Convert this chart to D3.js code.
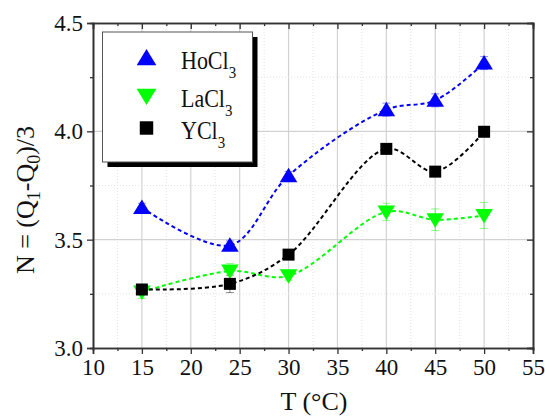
<!DOCTYPE html>
<html>
<head>
<meta charset="utf-8">
<script src="https://cdn.jsdelivr.net/npm/d3@7"></script>
<style>
  html, body { margin: 0; padding: 0; background: #fff; }
  svg { display: block; }
  text { font-family: "Liberation Serif", "DejaVu Serif", serif; fill: #111; }
</style>
</head>
<body>
<svg id="chart" width="545" height="417"></svg>
<script>
// Temperatures (°C) at which each salt solution was measured
const temps = [15, 24, 30, 40, 45, 50];

// N = (Q1 - Q0)/3 for each salt
const hoValues = [3.648, 3.474, 3.795, 4.100, 4.143, 4.315];
const laValues = [3.259, 3.355, 3.333, 3.628, 3.592, 3.612];
const yValues  = [3.270, 3.296, 3.431, 3.919, 3.814, 3.998];

// Standard deviations
const hoErrors = [0.02, 0.02, 0.02, 0.03, 0.03, 0.03];
const laErrors = [0.03, 0.035, 0.02, 0.04, 0.05, 0.06];
const yErrors  = [0.02, 0.04, 0.02, 0.02, 0.02, 0.02];

// Tick labels
const xTicks = [10, 15, 20, 25, 30, 35, 40, 45, 50, 55];
const yTicks = [3.0, 3.5, 4.0, 4.5];

const seriesNames = ["HoCl", "LaCl", "YCl"];
const seriesColors = ["#0000ff", "#00ff00", "#000000"];
const seriesSymbols = ["up", "down", "square"];

const series = [
  { name: seriesNames[0], values: hoValues, errors: hoErrors, color: seriesColors[0], symbol: seriesSymbols[0] },
  { name: seriesNames[1], values: laValues, errors: laErrors, color: seriesColors[1], symbol: seriesSymbols[1] },
  { name: seriesNames[2], values: yValues,  errors: yErrors,  color: seriesColors[2], symbol: seriesSymbols[2] }
];

const serif = '"Liberation Serif", "DejaVu Serif", serif';
const svg = d3.select("#chart");
const plot = { left: 93, right: 533, top: 23, bottom: 348 };

const x = d3.scaleLinear().domain([10, 55]).range([plot.left, plot.right]);
const y = d3.scaleLinear().domain([3.0, 4.5]).range([plot.bottom, plot.top]);

const minorX = d3.range(12.5, 55, 5);
const minorY = [3.25, 3.75, 4.25];

// Grid
const grid = svg.append("g");
grid.selectAll(".vmaj").data(xTicks.slice(1, -1)).join("line")
  .attr("x1", d => x(d)).attr("x2", d => x(d))
  .attr("y1", plot.top).attr("y2", plot.bottom)
  .attr("stroke", "#d2d2d2").attr("stroke-width", 1.2);
grid.selectAll(".vmin").data(minorX).join("line")
  .attr("x1", d => x(d)).attr("x2", d => x(d))
  .attr("y1", plot.top).attr("y2", plot.bottom)
  .attr("stroke", "#e2e2e2").attr("stroke-width", 1).attr("stroke-dasharray", "1,2");
grid.selectAll(".hmaj").data(yTicks.slice(1, -1)).join("line")
  .attr("x1", plot.left).attr("x2", plot.right)
  .attr("y1", d => y(d)).attr("y2", d => y(d))
  .attr("stroke", "#d2d2d2").attr("stroke-width", 1.2);
grid.selectAll(".hmin").data(minorY).join("line")
  .attr("x1", plot.left).attr("x2", plot.right)
  .attr("y1", d => y(d)).attr("y2", d => y(d))
  .attr("stroke", "#e2e2e2").attr("stroke-width", 1).attr("stroke-dasharray", "1,2");

// Axes
const axisColor = "#333";
const bottomAxis = svg.append("g").attr("transform", `translate(0,${plot.bottom})`)
  .call(d3.axisBottom(x).tickValues(xTicks).tickFormat(d3.format("d")).tickSize(6).tickPadding(4));
const leftAxis = svg.append("g").attr("transform", `translate(${plot.left},0)`)
  .call(d3.axisLeft(y).tickValues(yTicks).tickFormat(d3.format(".1f")).tickSize(6).tickPadding(4));
svg.append("g").attr("transform", `translate(0,${plot.top})`)
  .call(d3.axisBottom(x).tickValues(xTicks).tickFormat("").tickSize(6));
svg.append("g").attr("transform", `translate(${plot.right},0)`)
  .call(d3.axisLeft(y).tickValues(yTicks).tickFormat("").tickSize(6));

// Minor ticks
svg.append("g").attr("transform", `translate(0,${plot.bottom})`)
  .call(d3.axisBottom(x).tickValues(minorX).tickFormat("").tickSize(3));
svg.append("g").attr("transform", `translate(0,${plot.top})`)
  .call(d3.axisBottom(x).tickValues(minorX).tickFormat("").tickSize(3));
svg.append("g").attr("transform", `translate(${plot.left},0)`)
  .call(d3.axisLeft(y).tickValues(minorY).tickFormat("").tickSize(3));
svg.append("g").attr("transform", `translate(${plot.right},0)`)
  .call(d3.axisLeft(y).tickValues(minorY).tickFormat("").tickSize(3));

svg.selectAll(".domain").attr("stroke", axisColor).attr("stroke-width", 1.6);
svg.selectAll(".tick line").attr("stroke", axisColor).attr("stroke-width", 1.3);
svg.selectAll(".tick text")
  .style("font-family", serif)
  .style("font-size", "23px").style("fill", "#111");
bottomAxis.selectAll(".tick text").attr("dy", "0.75em");

// Axis titles
svg.append("text")
  .attr("x", (plot.left + plot.right) / 2 + 1).attr("y", 410)
  .attr("text-anchor", "middle").style("font-size", "26px")
  .text("T (°C)");

const yTitle = svg.append("text")
  .attr("transform", "translate(34,200) rotate(-90)")
  .attr("text-anchor", "middle").style("font-size", "26px");
yTitle.append("tspan").text("N = (Q");
yTitle.append("tspan").attr("dy", 6).style("font-size", "18px").text("1");
yTitle.append("tspan").attr("dy", -6).text("-Q");
yTitle.append("tspan").attr("dy", 6).style("font-size", "18px").text("0");
yTitle.append("tspan").attr("dy", -6).text(")/3");

// Symbols
function symbolPath(kind) {
  if (kind === "up") return "M0,-8L8.8,6.5L-8.8,6.5Z";
  if (kind === "down") return "M0,8L8.8,-6.5L-8.8,-6.5Z";
  return "M-6,-6H6V6H-6Z";
}

const line = d3.line()
  .x((d, i) => x(temps[i]))
  .y(d => y(d))
  .curve(d3.curveCatmullRom.alpha(0.5));

const layers = svg.append("g");
series.forEach(s => {
  const g = layers.append("g");
  // Error bars
  const eb = g.selectAll(".err").data(s.values).join("g")
    .attr("stroke", s.color).attr("stroke-opacity", 0.45).attr("stroke-width", 1);
  eb.append("line")
    .attr("x1", (d, i) => x(temps[i])).attr("x2", (d, i) => x(temps[i]))
    .attr("y1", (d, i) => y(d - s.errors[i])).attr("y2", (d, i) => y(d + s.errors[i]));
  eb.append("line")
    .attr("x1", (d, i) => x(temps[i]) - 4).attr("x2", (d, i) => x(temps[i]) + 4)
    .attr("y1", (d, i) => y(d - s.errors[i])).attr("y2", (d, i) => y(d - s.errors[i]));
  eb.append("line")
    .attr("x1", (d, i) => x(temps[i]) - 4).attr("x2", (d, i) => x(temps[i]) + 4)
    .attr("y1", (d, i) => y(d + s.errors[i])).attr("y2", (d, i) => y(d + s.errors[i]));
  // Dashed connecting curve
  g.append("path").datum(s.values)
    .attr("d", line)
    .attr("fill", "none").attr("stroke", s.color)
    .attr("stroke-width", 2).attr("stroke-dasharray", "4,3");
});
series.forEach(s => {
  layers.append("g").selectAll("path").data(s.values).join("path")
    .attr("transform", (d, i) => `translate(${x(temps[i])},${y(d)})`)
    .attr("d", symbolPath(s.symbol))
    .attr("fill", s.color);
});

// Legend
const legend = svg.append("g");
const lg = { x: 102.5, y: 32, w: 150, h: 130 };
legend.append("rect").attr("x", lg.x + 5).attr("y", lg.y + 5)
  .attr("width", lg.w).attr("height", lg.h).attr("fill", "#000");
legend.append("rect").attr("x", lg.x).attr("y", lg.y)
  .attr("width", lg.w).attr("height", lg.h)
  .attr("fill", "#fff").attr("stroke", "#555").attr("stroke-width", 1);
const rowY = [58, 96, 128];
series.forEach((s, i) => {
  legend.append("path")
    .attr("transform", `translate(${146.5},${rowY[i]}) scale(1.12)`)
    .attr("d", symbolPath(s.symbol)).attr("fill", s.color);
  const t = legend.append("text")
    .attr("transform", `translate(181,${rowY[i] + 11}) scale(0.88,1)`)
    .style("font-size", "25px");
  t.append("tspan").text(s.name);
  t.append("tspan").attr("dy", 9).style("font-size", "17px").text("3");
});
</script>
</body>
</html>
